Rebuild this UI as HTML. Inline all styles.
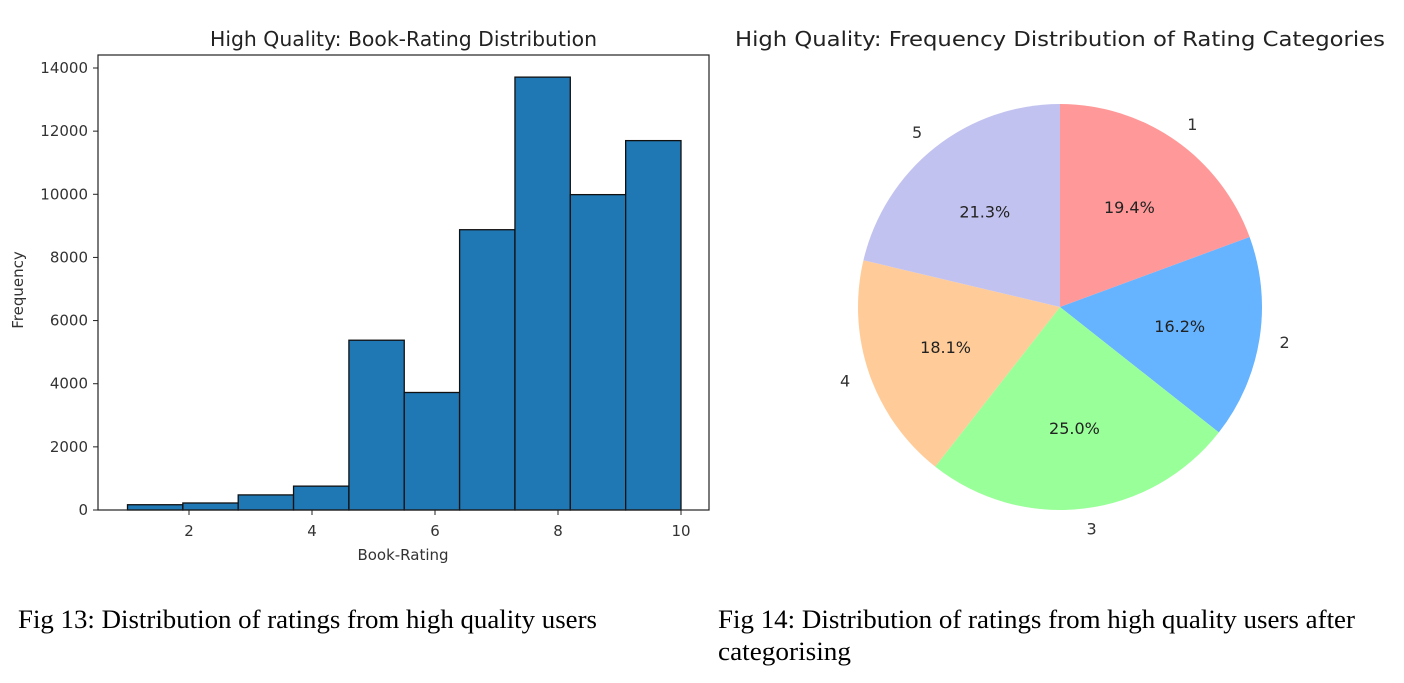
<!DOCTYPE html>
<html><head><meta charset="utf-8"><style>
body{margin:0;background:#fff;width:1404px;height:683px;overflow:hidden;font-family:"DejaVu Sans","Liberation Sans",sans-serif;}
</style></head><body>
<svg width="1404" height="683" style="position:absolute;left:0;top:0">
<g id="hist"></g>
<g id="pie"></g>
<text x="18" y="628" font-family="Liberation Serif, serif" font-size="26" textLength="579" lengthAdjust="spacingAndGlyphs">Fig 13: Distribution of ratings from high quality users</text>
<text x="718" y="628" font-family="Liberation Serif, serif" font-size="26" textLength="637" lengthAdjust="spacingAndGlyphs">Fig 14: Distribution of ratings from high quality users after</text>
<text x="718" y="660" font-family="Liberation Serif, serif" font-size="26" textLength="133" lengthAdjust="spacingAndGlyphs">categorising</text>
</svg>
<script>
const binEdges=[1,1.9,2.8,3.7,4.6,5.5,6.4,7.3,8.2,9.1,10];
const binCounts=[167,222,478,756,5378,3722,8878,13711,9989,11700];
const yTicks=[0,2000,4000,6000,8000,10000,12000,14000];
const xTicks=[2,4,6,8,10];
const pieLabels=['1','2','3','4','5'];
const pieValues=[19.4,16.2,25.0,18.1,21.3];
const pieColors=['#ff9999','#66b3ff','#99ff99','#ffcc99','#c2c2f0'];
const NS='http://www.w3.org/2000/svg';
function mk(p,t,a,txt){const e=document.createElementNS(NS,t);for(const k in a)e.setAttribute(k,a[k]);if(txt!==undefined)e.textContent=txt;p.appendChild(e);return e;}
const H=document.getElementById('hist');
const L=98,R=709,T=55,B=510;
const xs=v=>189+(v-2)*61.5;
const ys=v=>510-v*(442/14000);
for(let i=0;i<binCounts.length;i++){
 const r=mk(H,'rect',{x:xs(binEdges[i]),y:ys(binCounts[i]),width:xs(binEdges[i+1])-xs(binEdges[i]),height:ys(0)-ys(binCounts[i]),fill:'#1f77b4',stroke:'#111','stroke-width':1.3});
 
 
}
const fr=mk(H,'rect',{x:L,y:T,width:R-L,height:B-T,fill:'none',stroke:'#222','stroke-width':1.2});


yTicks.forEach(v=>{mk(H,'line',{x1:L-5,x2:L,y1:ys(v),y2:ys(v),stroke:'#222'});
 const t=mk(H,'text',{x:L-10,y:ys(v)+5,'text-anchor':'end','font-size':15,fill:'#333'},String(v));
 
 });
xTicks.forEach(v=>{mk(H,'line',{x1:xs(v),x2:xs(v),y1:B,y2:B+5,stroke:'#222'});
 const t=mk(H,'text',{x:xs(v),y:B+26,'text-anchor':'middle','font-size':15,fill:'#333'},String(v));
 
 });
let t1=mk(H,'text',{x:210,y:46,'font-size':20,fill:'#222',textLength:387,lengthAdjust:'spacingAndGlyphs'},'High Quality: Book-Rating Distribution');


let t2=mk(H,'text',{x:403,y:560,'text-anchor':'middle','font-size':15,fill:'#333'},'Book-Rating');


let t3=mk(H,'text',{x:23,y:290,'text-anchor':'middle','font-size':15,fill:'#333',transform:'rotate(-90 23 290)'},'Frequency');


const P=document.getElementById('pie');
const cx=1060,cy=307,rx=202,ry=203;
const tot=pieValues.reduce((a,b)=>a+b,0);
let ang=90;
const pt=(a,f)=>[cx+rx*f*Math.cos(a*Math.PI/180),cy-ry*f*Math.sin(a*Math.PI/180)];
pieValues.forEach((v,i)=>{
 const sw=v/tot*360,a2=ang-sw;
 const [x1,y1]=pt(ang,1),[x2,y2]=pt(a2,1);
 const s=mk(P,'path',{d:`M${cx},${cy}L${x1},${y1}A${rx},${ry} 0 ${sw>180?1:0} 1 ${x2},${y2}Z`,fill:pieColors[i]});
 
 
 const m=ang-sw/2;
 const [lx,ly]=pt(m,1.1),[px,py]=pt(m,0.6);
 const c=Math.cos(m*Math.PI/180);
 const lt=mk(P,'text',{x:lx,y:ly+6,'text-anchor':c>0.1?'start':(c<-0.1?'end':'middle'),'font-size':16,fill:'#333'},pieLabels[i]);
 
 
 const pt2=mk(P,'text',{x:px,y:py+6,'text-anchor':'middle','font-size':16,fill:'#222'},v.toFixed(1)+'%');
 
 
 ang=a2;
});
let t4=mk(P,'text',{x:735,y:46,'font-size':20,fill:'#222',textLength:650,lengthAdjust:'spacingAndGlyphs'},'High Quality: Frequency Distribution of Rating Categories');


</script>
</body></html>
